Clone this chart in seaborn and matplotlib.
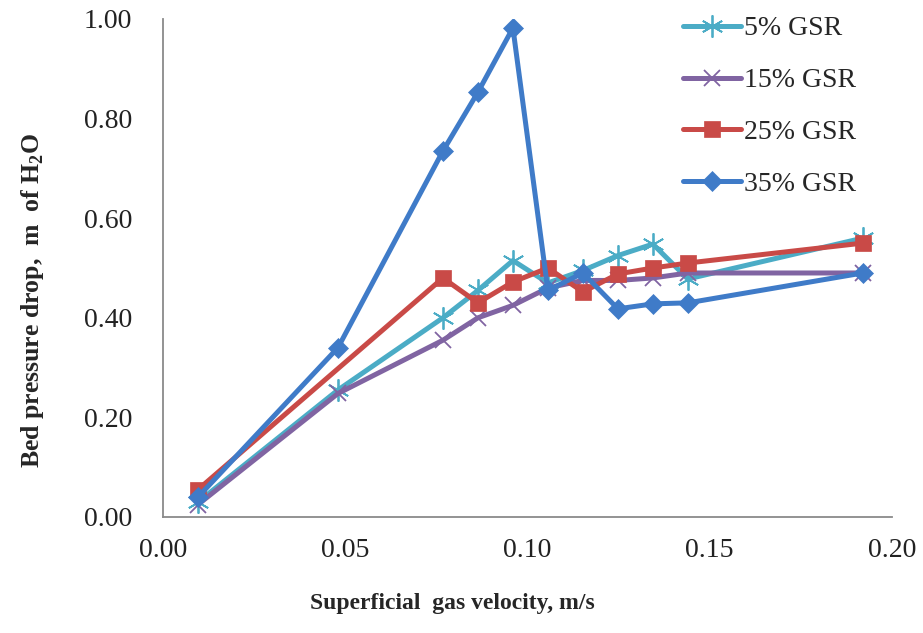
import matplotlib
matplotlib.use("Agg")
import matplotlib.pyplot as plt
import seaborn as sns
import pandas as pd

# ---- data ----
vel_all = [0.0096, 0.048, 0.0768, 0.0864, 0.096, 0.1056, 0.1152, 0.1248, 0.1344, 0.144, 0.192]
vel_25 = [0.0096, 0.0768, 0.0864, 0.096, 0.1056, 0.1152, 0.1248, 0.1344, 0.144, 0.192]
gsr5 = [0.030, 0.255, 0.400, 0.455, 0.515, 0.470, 0.495, 0.525, 0.548, 0.478, 0.560]
gsr15 = [0.025, 0.248, 0.355, 0.400, 0.425, 0.460, 0.475, 0.475, 0.480, 0.490, 0.490]
gsr25 = [0.055, 0.480, 0.430, 0.472, 0.500, 0.452, 0.488, 0.500, 0.510, 0.550]
gsr35 = [0.040, 0.340, 0.735, 0.853, 0.982, 0.455, 0.490, 0.418, 0.428, 0.430, 0.490]
labels = ["5% GSR", "15% GSR", "25% GSR", "35% GSR"]
x_ticks = [0.00, 0.05, 0.10, 0.15, 0.20]
y_ticks = [0.0, 0.2, 0.4, 0.6, 0.8, 1.0]

sns.set_style("white")
plt.rcParams["font.family"] = ["Liberation Serif", "DejaVu Serif"]
plt.rcParams["mathtext.fontset"] = "custom"
plt.rcParams["mathtext.rm"] = "Liberation Serif:bold"
plt.rcParams["mathtext.bf"] = "Liberation Serif:bold"

fig = plt.figure(figsize=(9.23, 6.33), dpi=100)
ax = fig.add_axes([163/923, 1-517/633, (892-163)/923, (517-19)/633])

series = [
    (vel_all, gsr5, labels[0], "#4BACC6", (6, 2, 0), 16, 1.3),
    (vel_all, gsr15, labels[1], "#8064A2", "x", 12, 1.3),
    (vel_25, gsr25, labels[2], "#C94A47", "s", 11.5, 0.5),
    (vel_all, gsr35, labels[3], "#3F7BC8", "D", 10, 0.5),
]
for xs, ys, lab, col, mk, ms, mew in series:
    df = pd.DataFrame({"v": xs, "p": ys})
    sns.lineplot(data=df, x="v", y="p", ax=ax, color=col, linewidth=3.6,
                 marker=mk, markersize=ms, markeredgewidth=mew,
                 markeredgecolor=col, markerfacecolor=col, label=lab, sort=False)

ax.set_xlim(0, 0.2)
ax.set_ylim(0, 1.0)
ax.set_xticks(x_ticks)
ax.set_yticks(y_ticks)
ax.set_xticklabels([f"{t:.2f}" for t in x_ticks])
ax.set_yticklabels([f"{t:.2f}" for t in y_ticks])
for s in ["top", "right"]:
    ax.spines[s].set_visible(False)
for s in ["left", "bottom"]:
    ax.spines[s].set_color("#8a8a8a")
    ax.spines[s].set_linewidth(1.3)
ax.tick_params(axis="both", direction="out", length=6, width=1.3, color="#8a8a8a",
               labelsize=20, labelcolor="#222222")
ax.tick_params(axis="y", pad=16)
ax.tick_params(axis="x", pad=9)

ax.set_xlabel("Superficial  gas velocity, m/s", fontsize=17, fontweight="bold")
ax.set_ylabel(r"Bed pressure drop,  m  of H$_{2}$O", fontsize=18.5, fontweight="bold")
ax.xaxis.set_label_coords((452-163)/729, (517-603)/498)
ax.xaxis.label.set_va("center")
ax.yaxis.set_label_coords((33-163)/729, (517-300)/498)
ax.yaxis.label.set_va("center")

leg = ax.legend(loc="upper left", bbox_to_anchor=(683/923, 1-16/633), bbox_transform=fig.transFigure,
                frameon=False, fontsize=20, handlelength=2.1, handletextpad=0.1,
                labelspacing=0.95, borderaxespad=0, borderpad=0)

fig.savefig("out.png", dpi=100)
